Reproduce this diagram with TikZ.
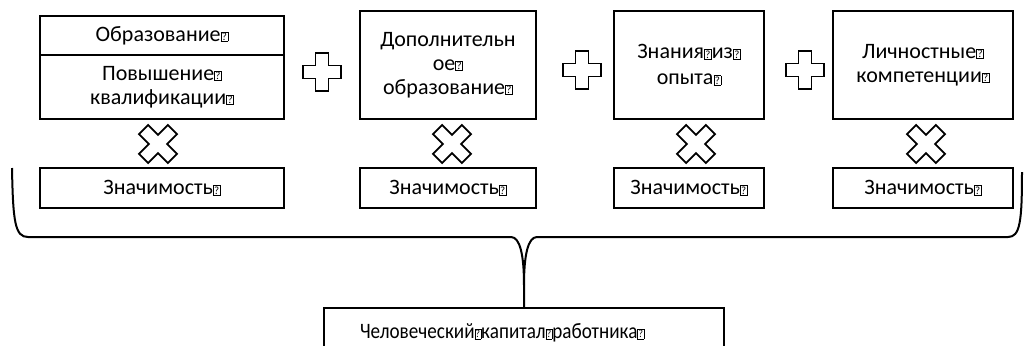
\documentclass[tikz,border=0pt]{standalone}
\usepackage{fontspec}
\setmainfont{Carlito}
\newcommand{\qb}{{\fboxsep=0.3pt\fboxrule=0.35pt\raisebox{0.4pt}{\fbox{\fontsize{5.5}{5.5}\selectfont ?}}}}
\begin{document}
\begin{tikzpicture}[x=0.5pt,y=-0.5pt,
    box/.style={draw,line width=1pt,align=center,inner sep=0pt,
      font=\fontsize{11}{12}\selectfont},
    symbol/.style={draw,line width=0.9pt,fill=white,line join=miter},
    plussign/.pic={
      \draw[symbol] (-19,-6.5) -- (-6.5,-6.5) -- (-6.5,-19) -- (6.5,-19) -- (6.5,-6.5)
        -- (19,-6.5) -- (19,6.5) -- (6.5,6.5) -- (6.5,19) -- (-6.5,19) -- (-6.5,6.5)
        -- (-19,6.5) -- cycle;},
    timessign/.pic={
      \draw[symbol,rotate=45] (-20.4,-6.5) -- (-6.5,-6.5) -- (-6.5,-20.4) -- (6.5,-20.4)
        -- (6.5,-6.5) -- (20.4,-6.5) -- (20.4,6.5) -- (6.5,6.5) -- (6.5,20.4)
        -- (-6.5,20.4) -- (-6.5,6.5) -- (-20.4,6.5) -- cycle;}]
  \useasboundingbox (0,0) rectangle (1025,345);

  % upper row
  \node[box,minimum width=122pt,minimum height=19.5pt] (edu) at (162,35.5) {Образование\qb};
  \node[box,minimum width=122pt,minimum height=32pt] (qual) at (162,87)
    {Повышение\qb\\квалификации\qb};
  \node[box,minimum width=88pt,minimum height=54pt] (addedu) at (448,65)
    {Дополнительн\\ое\qb\\образование\qb};
  \node[box,minimum width=75pt,minimum height=54pt] (exp) at (689,65)
    {Знания\qb из\qb\\[1pt]опыта\qb};
  \node[box,minimum width=90pt,minimum height=54pt] (comp) at (923,65)
    {Личностные\qb\\компетенции\qb};

  % lower row
  \node[box,minimum width=122pt,minimum height=20pt] (val1) at (162,188) {Значимость\qb};
  \node[box,minimum width=88pt,minimum height=20pt] (val2) at (448,188) {Значимость\qb};
  \node[box,minimum width=75pt,minimum height=20pt] (val3) at (689,188) {Значимость\qb};
  \node[box,minimum width=90pt,minimum height=20pt] (val4) at (923,188) {Значимость\qb};

  \pic at (322,72) {plussign};
  \pic at (582,70) {plussign};
  \pic at (805,70) {plussign};
  \pic at (158,144) {timessign};
  \pic at (452,144) {timessign};
  \pic at (696,144) {timessign};
  \pic at (926,144) {timessign};

  \node[box,minimum width=200pt,minimum height=25pt,text width=164pt,align=left,
    inner xsep=18pt] (cap) at (524,333)
    {\scalebox{0.87}[1]{Человеческий\qb{}капитал\qb{}работника\qb}};

  % brace
  \coordinate (bl) at (12,168);
  \coordinate (br) at (1022,172);
  \coordinate (tip) at (524,285);
  \draw[line width=1pt] (bl) .. controls (13,222) and (15,237) .. (28,237) -- (511,237)
    .. controls (520,237) and (524,255) .. (tip) -- (cap.north);
  \draw[line width=1pt] (br) .. controls (1022,222) and (1020,237) .. (1008,237) -- (537,237)
    .. controls (528,237) and (524,255) .. (tip);
\end{tikzpicture}
\end{document}
